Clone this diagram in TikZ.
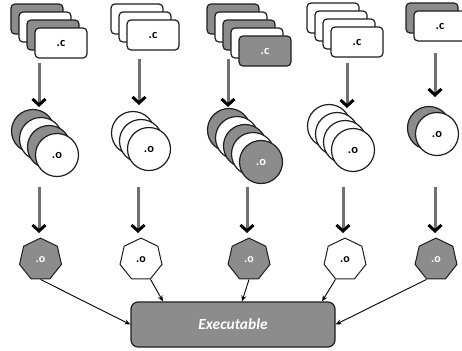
\documentclass[tikz,border=0pt]{standalone}
\usepackage{fontspec}
\setmainfont{Carlito}
\usepackage{tikz}
\usetikzlibrary{shapes.geometric,arrows.meta}
\definecolor{fillgray}{RGB}{140,140,140}
\definecolor{shaftgray}{RGB}{112,112,112}
\definecolor{edgeblack}{RGB}{30,30,30}
\tikzset{
  srcfile/.style={draw=edgeblack, line width=1.2bp, rounded corners=4bp, minimum width=52bp, minimum height=30bp, inner sep=0pt, font=\fontsize{12.5}{14}\selectfont\bfseries},
  objfile/.style={circle, draw=edgeblack, line width=1.2bp, minimum size=43bp, inner sep=0pt, font=\fontsize{12.5}{14}\selectfont\bfseries},
  linked/.style={regular polygon, regular polygon sides=7, draw=edgeblack, line width=1bp, minimum size=43bp, inner sep=0pt, font=\fontsize{12}{14}\selectfont\bfseries},
  grayfill/.style={fill=fillgray, text=white},
  whitefill/.style={fill=white, text=black},
  bigarrow/.style={draw=shaftgray, line width=3bp, -{Straight Barb[color=black,length=6bp,width=13bp]}},
  linkarrow/.style={draw=black, line width=0.9bp, -{Stealth[length=6bp,width=5bp,open]}}
}
\begin{document}
\begin{tikzpicture}[x=1bp,y=-1bp]
\useasboundingbox (0,0) rectangle (462,350);
% source files
\node[srcfile,grayfill] (r1a) at (37,19) {};
\node[srcfile,whitefill] (r1b) at (45,27) {};
\node[srcfile,grayfill] (r1c) at (53,35) {};
\node[srcfile,whitefill] (r1d) at (61,43) {.c};
\node[srcfile,whitefill] (r2a) at (137,19) {};
\node[srcfile,whitefill] (r2b) at (145,27) {};
\node[srcfile,whitefill] (r2c) at (153,35) {.c};
\node[srcfile,grayfill] (r3a) at (233,19) {};
\node[srcfile,whitefill] (r3b) at (241,27) {};
\node[srcfile,grayfill] (r3c) at (249,35) {};
\node[srcfile,whitefill] (r3d) at (257,43) {};
\node[srcfile,grayfill] (r3e) at (265,51) {.c};
\node[srcfile,whitefill] (r4a) at (333,18) {};
\node[srcfile,whitefill] (r4b) at (341,26) {};
\node[srcfile,whitefill] (r4c) at (349,34) {};
\node[srcfile,whitefill] (r4d) at (357,42) {.c};
\node[srcfile,grayfill] (r5a) at (432,18) {};
\node[srcfile,whitefill] (r5b) at (440,26) {.c};
% object files
\node[objfile,grayfill] (o1a) at (33,131) {};
\node[objfile,whitefill] (o1b) at (41,139) {};
\node[objfile,grayfill] (o1c) at (49,147) {};
\node[objfile,whitefill] (o1d) at (57,155) {.o};
\node[objfile,whitefill] (o2a) at (133,133) {};
\node[objfile,whitefill] (o2b) at (141,141) {};
\node[objfile,whitefill] (o2c) at (149,149) {.o};
\node[objfile,grayfill] (o3a) at (229,130) {};
\node[objfile,whitefill] (o3b) at (237,138) {};
\node[objfile,grayfill] (o3c) at (245,146) {};
\node[objfile,whitefill] (o3d) at (253,154) {};
\node[objfile,grayfill] (o3e) at (261,162) {.o};
\node[objfile,whitefill] (o4a) at (329,126) {};
\node[objfile,whitefill] (o4b) at (337,134) {};
\node[objfile,whitefill] (o4c) at (345,142) {};
\node[objfile,whitefill] (o4d) at (353,150) {.o};
\node[objfile,grayfill] (o5a) at (429,128) {};
\node[objfile,whitefill] (o5b) at (437,134) {.o};
% heptagons
\node[linked,grayfill] (h1) at (40.5,259.6) {.o};
\node[linked,whitefill] (h2) at (141,259.6) {.o};
\node[linked,grayfill] (h3) at (249,259.6) {.o};
\node[linked,whitefill] (h4) at (345,259.6) {.o};
\node[linked,grayfill] (h5) at (436,259.6) {.o};
% executable
\node[draw=edgeblack, line width=1.2bp, fill=fillgray, rounded corners=7bp, minimum width=204bp, minimum height=45bp, text=white, font=\fontsize{15.5}{18}\selectfont\bfseries\itshape] (exe) at (233,324.5) {Executable};
% big arrows
\coordinate (t1s) at (39,63);   \coordinate (t1e) at (39,107);
\coordinate (t2s) at (139,59);  \coordinate (t2e) at (139,105);
\coordinate (t3s) at (228,59);  \coordinate (t3e) at (228,107);
\coordinate (t4s) at (347,63);  \coordinate (t4e) at (347,108);
\coordinate (t5s) at (435,53);  \coordinate (t5e) at (435,97);
\coordinate (m1s) at (39,187);  \coordinate (m1e) at (39,233);
\coordinate (m2s) at (138,187); \coordinate (m2e) at (138,233);
\coordinate (m3s) at (247,187); \coordinate (m3e) at (247,233);
\coordinate (m4s) at (343,187); \coordinate (m4e) at (343,233);
\coordinate (m5s) at (435,187); \coordinate (m5e) at (435,233);
\draw[bigarrow] (t1s) -- (t1e);
\draw[bigarrow] (t2s) -- (t2e);
\draw[bigarrow] (t3s) -- (t3e);
\draw[bigarrow] (t4s) -- (t4e);
\draw[bigarrow] (t5s) -- (t5e);
\draw[bigarrow] (m1s) -- (m1e);
\draw[bigarrow] (m2s) -- (m2e);
\draw[bigarrow] (m3s) -- (m3e);
\draw[bigarrow] (m4s) -- (m4e);
\draw[bigarrow] (m5s) -- (m5e);
% links
\draw[linkarrow] (h1.south) -- (exe.west);
\draw[linkarrow] (h2.corner 5) -- (163,0 |- exe.north);
\draw[linkarrow] (h3.south) -- (242,0 |- exe.north);
\draw[linkarrow] (h4.corner 4) -- (322,0 |- exe.north);
\draw[linkarrow] (h5.corner 4) -- (exe.east);
\end{tikzpicture}
\end{document}
